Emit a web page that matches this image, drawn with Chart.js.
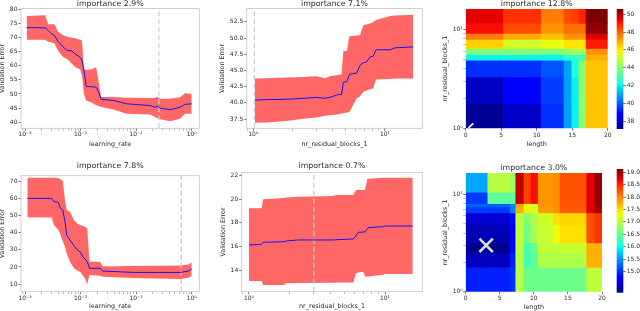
<!DOCTYPE html>
<html>
<head>
<meta charset="utf-8">
<script src="https://cdn.jsdelivr.net/npm/chart.js@4.4.1/dist/chart.umd.min.js"></script>
<style>
  html, body { margin: 0; padding: 0; background: #fff; overflow: hidden; width: 640px; height: 311px; }
  canvas { position: absolute; }
</style>
</head>
<body>
<canvas id="p1"></canvas>
<canvas id="p2"></canvas>
<canvas id="p3"></canvas>
<canvas id="cb3"></canvas>
<canvas id="p4"></canvas>
<canvas id="p5"></canvas>
<canvas id="p6"></canvas>
<canvas id="cb6"></canvas>
<script>
// ---- tick labels ----
const lrTicks = [0.001, 0.01, 0.1, 1];
const lrTickLabels = ['10⁻³', '10⁻²', '10⁻¹', '10⁰'];
const blockTicks = [1, 10];
const blockTickLabels = ['10⁰', '10¹'];
const lengthTicks = [0, 5, 10, 15, 20];
const lengthTickLabels = ['0', '5', '10', '15', '20'];

// ---- panel 1: learning_rate, importance 2.9% ----
const p1Lr = [0.00107, 0.00229, 0.00263, 0.00295, 0.00339, 0.00398, 0.0049, 0.00562, 0.00692, 0.00794,
  0.00977, 0.0106, 0.0115, 0.0126, 0.0158, 0.0191, 0.0214, 0.0234, 0.0389, 0.0676,
  0.178, 0.219, 0.240, 0.269, 0.407, 0.617, 0.759, 1.0];
const p1Mean = [73.6, 73.5, 72.5, 71.5, 70.8, 68.5, 66.7, 65.5, 65.3, 64.3,
  63.1, 62.0, 58.5, 52.7, 52.6, 52.4, 50.5, 48.1, 47.7, 46.5,
  45.9, 45.3, 45.6, 45.0, 44.4, 45.3, 46.3, 46.5];
const p1Upper = [77.7, 78.0, 74.8, 74.8, 74.8, 72.0, 70.9, 70.3, 70.0, 69.8,
  69.3, 69.0, 59.0, 58.5, 58.8, 59.5, 53.6, 48.9, 48.9, 48.7,
  48.6, 48.6, 49.0, 48.3, 48.3, 48.8, 50.3, 50.0];
const p1Lower = [69.3, 69.3, 68.6, 68.4, 67.9, 65.2, 63.1, 62.5, 60.8, 59.6,
  58.8, 56.6, 50.0, 47.7, 47.0, 46.0, 45.7, 45.4, 44.5, 43.0,
  42.7, 41.8, 41.4, 41.0, 40.3, 41.2, 43.0, 43.0];
const p1Incumbent = 0.257;
const p1YTicks = [40, 45, 50, 55, 60, 65, 70, 75, 80];
const p1YLabels = ['40', '45', '50', '55', '60', '65', '70', '75', '80'];

// ---- panel 2: nr_residual_blocks_1, importance 7.1% ----
const p2Blocks = [1.03, 1.26, 1.78, 2.4, 3.02, 3.5, 3.82, 4.43, 4.68, 4.83, 5.13,
  5.37, 6.1, 6.46, 6.84, 7.24, 7.69, 8.13, 8.55, 10.96, 11.9, 16.4];
const p2Mean = [40.43, 40.5, 40.55, 40.7, 40.85, 40.7, 40.85, 41.3, 41.3, 43.2, 43.25,
  44.4, 44.6, 45.8, 46.2, 46.3, 47.1, 47.2, 48.2, 48.2, 48.5, 48.65];
const p2Upper = [43.77, 43.8, 43.9, 44.0, 44.1, 43.8, 44.1, 44.3, 44.4, 48.0, 48.0,
  50.3, 50.4, 50.45, 52.0, 52.1, 52.25, 52.5, 52.8, 53.4, 53.5, 53.6];
const p2Lower = [36.94, 36.95, 37.2, 37.55, 37.75, 38.0, 38.1, 38.25, 38.35, 38.4, 38.5,
  38.6, 40.7, 41.0, 41.7, 41.9, 42.1, 42.2, 43.6, 43.7, 43.75, 43.77];
const p2Incumbent = 1.02;
const p2YTicks = [37.5, 40, 42.5, 45, 47.5, 50, 52.5];
const p2YLabels = ['37.5', '40.0', '42.5', '45.0', '47.5', '50.0', '52.5'];

// ---- panel 4: learning_rate, importance 7.8% ----
const p4Lr = [0.0011, 0.00302, 0.00331, 0.00398, 0.00427, 0.00479, 0.00525, 0.00562, 0.00646, 0.00759, 0.00871,
  0.00977, 0.011, 0.012, 0.0132, 0.0145, 0.0224, 0.0251, 0.0891, 0.617, 0.871, 1.0];
const p4Mean = [60.2, 60.2, 58.3, 57.9, 54.8, 53.4, 46.5, 38.7, 35.8, 32.5, 30.0,
  29.0, 26.0, 24.7, 23.1, 19.2, 19.2, 17.6, 16.8, 16.8, 17.6, 18.8];
const p4Upper = [72.3, 72.3, 72.3, 72.0, 71.5, 70.4, 59.0, 53.4, 52.4, 47.5, 45.5,
  44.6, 44.0, 43.6, 42.5, 23.1, 23.1, 20.2, 20.5, 20.8, 21.5, 22.7];
const p4Lower = [49.1, 49.0, 44.6, 41.7, 39.5, 35.0, 31.9, 28.0, 23.1, 19.2, 18.0,
  17.2, 15.0, 13.3, 9.8, 15.3, 14.9, 14.3, 13.5, 12.9, 13.7, 14.9];
const p4Incumbent = 0.65;
const p4YTicks = [10, 20, 30, 40, 50, 60, 70];
const p4YLabels = ['10', '20', '30', '40', '50', '60', '70'];

// ---- panel 5: nr_residual_blocks_1, importance 0.7% ----
const p5Blocks = [1.0, 1.24, 1.27, 1.81, 1.87, 2.31, 4.17, 4.36, 5.85, 6.12, 6.37, 6.92, 7.13, 7.41, 7.54, 9.72, 10.0, 16.0];
const p5Mean = [16.12, 16.18, 16.35, 16.4, 16.46, 16.55, 16.55, 16.57, 16.63, 16.9, 17.2, 17.22, 17.25, 17.5, 17.6, 17.68, 17.73, 17.73];
const p5Upper = [19.23, 19.23, 20.0, 20.1, 20.15, 20.22, 20.28, 20.36, 20.36, 20.78, 20.78, 20.78, 20.78, 21.72, 21.75, 21.83, 21.83, 21.83];
const p5Lower = [13.07, 13.07, 12.73, 12.73, 12.88, 12.9, 12.92, 12.93, 12.93, 13.72, 13.78, 13.86, 13.44, 13.44, 13.45, 13.6, 13.67, 13.67];
const p5Incumbent = 3.0;
const p5YTicks = [14, 16, 18, 20, 22];
const p5YLabels = ['14', '16', '18', '20', '22'];

// ---- panel 3: heatmap length x nr_residual_blocks_1, importance 12.8% ----
const hm3LengthEdges = [0, 5.3, 10.6, 13.8, 14.9, 15.9, 16.9, 20];
const hm3BlockEdges = [1, 1.8, 3.32, 4.9, 5.59, 6.43, 7.93, 9.12, 11.5, 16];
const hm3Values = [          // rows bottom -> top
  [37.35, 37.95, 39.4, 40.9, 42.0, 44.1, 46.6],
  [37.9, 38.6, 39.6, 40.9, 42.0, 44.1, 46.6],
  [39.4, 39.4, 39.9, 40.9, 42.3, 44.1, 46.6],
  [42.0, 42.0, 42.0, 42.4, 42.6, 42.8, 46.9],
  [43.9, 43.9, 43.9, 44.2, 44.4, 44.4, 47.3],
  [46.4, 45.2, 45.6, 46.1, 46.1, 46.1, 49.0],
  [47.6, 46.9, 46.6, 47.3, 47.3, 47.3, 49.5],
  [49.2, 48.3, 47.3, 47.8, 47.8, 47.8, 50.4],
  [49.4, 48.7, 47.6, 48.3, 48.5, 48.9, 50.6]
];
const hm3Path = { length: [0.38, 1.08], blocks: [1.01, 1.12] };
const cb3Ticks = [38, 40, 42, 44, 46, 48, 50];
const cb3Labels = ['38', '40', '42', '44', '46', '48', '50'];

// ---- panel 6: heatmap length x nr_residual_blocks_1, importance 3.0% ----
const hm6LengthEdges = [0, 3.2, 6.5, 7.3, 8.5, 9.5, 10.6, 12.8, 13.8, 17.7, 18.9, 20];
const hm6BlockEdges = [1, 1.79, 2.53, 3.2, 4.9, 6.5, 7.5, 8.1, 10.6, 16.6];
const hm6Values = [          // rows bottom -> top
  [14.93, 14.93, 15.0, 17.0, 16.55, 16.55, 16.55, 16.55, 16.55, 17.05, 17.05],
  [14.42, 14.42, 14.93, 17.0, 16.3, 16.45, 16.95, 16.95, 16.95, 17.75, 17.75],
  [14.21, 14.21, 14.8, 17.05, 16.3, 16.55, 17.05, 17.05, 17.1, 17.75, 17.75],
  [14.38, 14.38, 14.75, 17.05, 16.55, 16.9, 17.1, 17.35, 17.5, 18.25, 18.4],
  [14.5, 14.5, 14.8, 17.05, 16.65, 16.95, 17.15, 17.5, 17.55, 18.25, 18.4],
  [15.05, 15.05, 15.4, 17.75, 17.4, 17.2, 17.85, 17.9, 18.2, 18.7, 18.95],
  [15.25, 15.25, 15.45, 17.85, 17.3, 17.15, 17.9, 17.95, 18.25, 18.7, 19.0],
  [15.05, 16.45, 16.45, 18.85, 18.34, 18.6, 17.9, 17.95, 18.25, 18.7, 19.05],
  [15.6, 17.0, 16.85, 18.85, 18.34, 18.6, 17.9, 17.95, 18.25, 18.7, 19.05]
];
const hm6Incumbent = { length: 3, blocks: 3 };
const cb6Ticks = [15, 15.5, 16, 16.5, 17, 17.5, 18, 18.5, 19];
const cb6Labels = ['15.0', '15.5', '16.0', '16.5', '17.0', '17.5', '18.0', '18.5', '19.0'];

// ---- styling ----
const FAMILY = 'DejaVu Sans';
const TICK_FONT = { family: FAMILY, size: 6 };
const AXIS_FONT = { family: FAMILY, size: 6.4, lineHeight: 1 };
const TITLE_FONT = { family: FAMILY, size: 7.8, lineHeight: 1.1, weight: 'normal' };
const TITLE_H = 7.8 * 1.1;
const AXIS_HALF = 3.2;
const TEXT = '#2a2a2a';

function jet(t) {
  t = Math.min(1, Math.max(0, t));
  const lerp = (pts) => {
    for (let i = 1; i < pts.length; i++) {
      if (t <= pts[i][0]) {
        const [x0, y0] = pts[i - 1], [x1, y1] = pts[i];
        return y0 + (y1 - y0) * (t - x0) / (x1 - x0);
      }
    }
    return pts[pts.length - 1][1];
  };
  const r = lerp([[0, 0], [0.35, 0], [0.66, 1], [0.89, 1], [1, 0.5]]);
  const g = lerp([[0, 0], [0.125, 0], [0.375, 1], [0.64, 1], [0.91, 0], [1, 0]]);
  const b = lerp([[0, 0.5], [0.11, 1], [0.34, 1], [0.65, 0], [1, 0]]);
  return `rgb(${Math.round(r * 255)},${Math.round(g * 255)},${Math.round(b * 255)})`;
}

function place(id, left, top, w, h) {
  const cv = document.getElementById(id);
  cv.width = w; cv.height = h;
  cv.style.left = left + 'px'; cv.style.top = top + 'px';
  cv.style.width = w + 'px'; cv.style.height = h + 'px';
  return cv;
}

function labelFor(v, values, labels) {
  const i = values.findIndex(m => Math.abs(m - v) <= Math.abs(m) * 1e-6 + 1e-9);
  return i < 0 ? '' : labels[i];
}

function logTickList(min, max) {
  const out = [];
  for (let e = Math.floor(Math.log10(min)); e <= Math.ceil(Math.log10(max)); e++) {
    for (let k = 1; k < 10; k++) {
      const v = parseFloat((k * Math.pow(10, e)).toPrecision(6));
      if (v >= min && v <= max) out.push({ value: v });
    }
  }
  return out;
}

const pts = (xs, ys) => xs.map((x, i) => ({ x, y: ys[i] }));

const framePlugin = {
  id: 'frame',
  afterDatasetsDraw(chart, args, opts) {
    if (!opts || !opts.color) return;
    const { ctx, chartArea: a } = chart;
    ctx.save();
    ctx.strokeStyle = opts.color;
    ctx.lineWidth = 0.8;
    ctx.strokeRect(a.left, a.top, a.right - a.left, a.bottom - a.top);
    ctx.restore();
  }
};

function heatmapLayer(xEdges, yEdges, values, vmin, vmax) {
  return {
    id: 'heatmap',
    beforeDatasetsDraw(chart) {
      const { ctx, chartArea: a, scales: { x, y } } = chart;
      ctx.save();
      ctx.beginPath();
      ctx.rect(a.left, a.top, a.right - a.left, a.bottom - a.top);
      ctx.clip();
      values.forEach((row, i) => {
        const y0 = y.getPixelForValue(yEdges[i]);
        const y1 = y.getPixelForValue(yEdges[i + 1]);
        row.forEach((v, j) => {
          const x0 = x.getPixelForValue(xEdges[j]);
          const x1 = x.getPixelForValue(xEdges[j + 1]);
          ctx.fillStyle = jet((v - vmin) / (vmax - vmin));
          ctx.fillRect(x0, y1, x1 - x0 + 0.6, y0 - y1 + 0.6);
        });
      });
      ctx.restore();
    }
  };
}

const colorbarLayer = {
  id: 'colorbar',
  beforeDatasetsDraw(chart) {
    const { ctx, chartArea: a } = chart;
    const grad = ctx.createLinearGradient(0, a.bottom, 0, a.top);
    for (let i = 0; i <= 40; i++) grad.addColorStop(i / 40, jet(i / 40));
    ctx.save();
    ctx.fillStyle = grad;
    ctx.fillRect(a.left, a.top, a.right - a.left, a.bottom - a.top);
    ctx.restore();
  }
};

function tickGrid(majors) {
  return {
    drawOnChartArea: false, drawTicks: true, tickLength: 2.5, tickWidth: 0.8,
    tickColor: c => (!majors || (c.tick && labelFor(c.tick.value, majors, majors) !== '')) ? '#555' : '#aaa'
  };
}

function logAxis(min, max, majors, labels, title, fit) {
  return {
    type: 'logarithmic', min, max,
    afterBuildTicks: s => { s.ticks = logTickList(min, max); },
    afterFit: fit,
    ticks: { font: TICK_FONT, color: TEXT, padding: 0.5, autoSkip: false, maxRotation: 0, minRotation: 0,
      callback: v => labelFor(v, majors, labels) },
    grid: tickGrid(majors),
    border: { display: false },
    title: title
  };
}

function linAxis(min, max, values, labels, title, fit, position) {
  return {
    type: 'linear', min, max, position: position || undefined,
    afterBuildTicks: s => { s.ticks = values.map(v => ({ value: v })); },
    afterFit: fit,
    ticks: { font: TICK_FONT, color: TEXT, padding: 1, autoSkip: false, maxRotation: 0, minRotation: 0,
      callback: v => labelFor(v, values, labels) },
    grid: tickGrid(null),
    border: { display: false },
    title: title
  };
}

// box: canvas left/top/width/height, plot left/top/right/bottom, title centres of the axis labels
function linePanel(id, box, d) {
  const cv = place(id, box.cl, box.ct, box.cw, box.ch);
  const yTitleX = box.yTitle - AXIS_HALF - box.cl;
  const xTitleY = box.ct + box.ch - AXIS_HALF - box.xTitle;
  new Chart(cv, {
    type: 'scatter',
    data: {
      datasets: [
        { data: pts(d.x, d.mean), showLine: true, borderColor: '#1414f5', borderWidth: 1, pointRadius: 0 },
        { data: [{ x: d.incumbent, y: d.yMin }, { x: d.incumbent, y: d.yMax }], showLine: true,
          borderColor: '#cdcdcd', borderWidth: 1.3, borderDash: [5, 3], pointRadius: 0 },
        { data: pts(d.x, d.upper), showLine: true, borderColor: 'rgba(0,0,0,0)', pointRadius: 0,
          fill: '+1', backgroundColor: 'rgba(255,0,0,0.6)' },
        { data: pts(d.x, d.lower), showLine: true, borderColor: 'rgba(0,0,0,0)', pointRadius: 0 }
      ]
    },
    plugins: [framePlugin],
    options: {
      responsive: false, animation: false, events: [],
      layout: { padding: { left: 0, top: 0, bottom: 0, right: box.cl + box.cw - box.pr } },
      plugins: {
        legend: { display: false }, tooltip: { enabled: false },
        title: { display: true, text: d.title, fullSize: false, color: TEXT, font: TITLE_FONT,
          padding: { top: box.titleTop, bottom: box.pt - box.ct - box.titleTop - TITLE_H } },
        frame: { color: '#c4c4c4' }
      },
      scales: {
        x: logAxis(d.xMin, d.xMax, d.xMajors, d.xLabels,
          { display: true, text: d.xTitle, color: TEXT, font: AXIS_FONT, padding: { top: 0, bottom: xTitleY } },
          s => { s.height = box.ct + box.ch - box.pb; }),
        y: linAxis(d.yMin, d.yMax, d.yTicks, d.yLabels,
          { display: true, text: 'Validation Error', color: TEXT, font: AXIS_FONT, padding: { top: yTitleX, bottom: 0 } },
          s => { s.width = box.pl - box.cl; })
      }
    }
  });
}

function heatPanel(id, box, d) {
  const cv = place(id, box.cl, box.ct, box.cw, box.ch);
  const yTitleX = box.yTitle - AXIS_HALF - box.cl;
  const xTitleY = box.ct + box.ch - AXIS_HALF - box.xTitle;
  new Chart(cv, {
    type: 'scatter',
    data: { datasets: d.datasets },
    plugins: [heatmapLayer(d.xEdges, d.yEdges, d.values, d.vmin, d.vmax)],
    options: {
      responsive: false, animation: false, events: [],
      layout: { padding: { left: 0, top: 0, bottom: 0, right: box.cl + box.cw - box.pr } },
      plugins: {
        legend: { display: false }, tooltip: { enabled: false },
        title: { display: true, text: d.title, fullSize: false, color: TEXT, font: TITLE_FONT,
          padding: { top: box.titleTop, bottom: box.pt - box.ct - box.titleTop - TITLE_H } }
      },
      scales: {
        x: linAxis(0, 20, lengthTicks, lengthTickLabels,
          { display: true, text: 'length', color: TEXT, font: AXIS_FONT, padding: { top: 0, bottom: xTitleY } },
          s => { s.height = box.ct + box.ch - box.pb; }),
        y: logAxis(d.yMin, d.yMax, blockTicks, blockTickLabels,
          { display: true, text: 'nr_residual_blocks_1', color: TEXT, font: AXIS_FONT, padding: { top: yTitleX, bottom: 0 } },
          s => { s.width = box.pl - box.cl; })
      }
    }
  });
}

function colorbar(id, box, vmin, vmax, ticks, labels) {
  const cv = place(id, box.cl, box.ct, box.cw, box.ch);
  new Chart(cv, {
    type: 'scatter',
    data: { datasets: [] },
    plugins: [colorbarLayer],
    options: {
      responsive: false, animation: false, events: [],
      layout: { padding: { left: box.pl - box.cl, top: box.pt - box.ct, bottom: box.ct + box.ch - box.pb, right: 0 } },
      plugins: { legend: { display: false }, tooltip: { enabled: false } },
      scales: {
        x: { type: 'linear', display: false, min: 0, max: 1 },
        y: linAxis(vmin, vmax, ticks, labels, { display: false }, s => { s.width = box.cl + box.cw - box.pr; }, 'right')
      }
    }
  });
}

// ---- build ----
linePanel('p1', { cl: -1, ct: 0, cw: 216, ch: 150, pl: 21, pt: 8.6, pr: 199.3, pb: 128.3, titleTop: 0, yTitle: 2.4, xTitle: 144.2 }, {
  title: 'importance 2.9%', x: p1Lr, mean: p1Mean, upper: p1Upper, lower: p1Lower, incumbent: p1Incumbent,
  xMin: 0.000847, xMax: 1.37, xMajors: lrTicks, xLabels: lrTickLabels, xTitle: 'learning_rate',
  yMin: 37.8, yMax: 80.35, yTicks: p1YTicks, yLabels: p1YLabels
});

linePanel('p2', { cl: 219, ct: 0, cw: 221, ch: 150, pl: 246.7, pt: 8.6, pr: 422.3, pb: 128.3, titleTop: 0, yTitle: 222.8, xTitle: 144.2 }, {
  title: 'importance 7.1%', x: p2Blocks, mean: p2Mean, upper: p2Upper, lower: p2Lower, incumbent: p2Incumbent,
  xMin: 0.891, xMax: 19.2, xMajors: blockTicks, xLabels: blockTickLabels, xTitle: 'nr_residual_blocks_1',
  yMin: 36.07, yMax: 54.56, yTicks: p2YTicks, yLabels: p2YLabels
});

heatPanel('p3', { cl: 442, ct: 0, cw: 172, ch: 150, pl: 465.7, pt: 9, pr: 607.7, pb: 128.3, titleTop: 0, yTitle: 445.6, xTitle: 144.2 }, {
  title: 'importance 12.8%', xEdges: hm3LengthEdges, yEdges: hm3BlockEdges, values: hm3Values, vmin: 37.1, vmax: 50.6,
  yMin: 1, yMax: 16,
  datasets: [{ data: pts(hm3Path.length, hm3Path.blocks), showLine: true, borderColor: '#f4f4f4', borderWidth: 1.8, pointRadius: 0 }]
});
colorbar('cb3', { cl: 612, ct: 0, cw: 40, ch: 150, pl: 616.7, pt: 9, pr: 623.3, pb: 129 }, 37.1, 50.6, cb3Ticks, cb3Labels);

linePanel('p4', { cl: -2, ct: 161, cw: 217, ch: 150, pl: 21, pt: 175.7, pr: 199.3, pb: 291.7, titleTop: 0.2, yTitle: 2, xTitle: 306.5 }, {
  title: 'importance 7.8%', x: p4Lr, mean: p4Mean, upper: p4Upper, lower: p4Lower, incumbent: p4Incumbent,
  xMin: 0.000847, xMax: 1.37, xMajors: lrTicks, xLabels: lrTickLabels, xTitle: 'learning_rate',
  yMin: 5.5, yMax: 73.5, yTicks: p4YTicks, yLabels: p4YLabels
});

linePanel('p5', { cl: 220, ct: 161, cw: 220, ch: 150, pl: 241.7, pt: 172.3, pr: 422.3, pb: 291.7, titleTop: 0.2, yTitle: 223.8, xTitle: 306.3 }, {
  title: 'importance 0.7%', x: p5Blocks, mean: p5Mean, upper: p5Upper, lower: p5Lower, incumbent: p5Incumbent,
  xMin: 0.884, xMax: 18.8, xMajors: blockTicks, xLabels: blockTickLabels, xTitle: 'nr_residual_blocks_1',
  yMin: 12.16, yMax: 22.29, yTicks: p5YTicks, yLabels: p5YLabels
});

heatPanel('p6', { cl: 442, ct: 161, cw: 172, ch: 150, pl: 465.7, pt: 171, pr: 607.7, pb: 291.7, titleTop: 0.2, yTitle: 445.8, xTitle: 307 }, {
  title: 'importance 3.0%', xEdges: hm6LengthEdges, yEdges: hm6BlockEdges, values: hm6Values, vmin: 14.15, vmax: 19.13,
  yMin: 1, yMax: 16.6,
  datasets: [{ data: [{ x: hm6Incumbent.length, y: hm6Incumbent.blocks }], pointStyle: 'crossRot', pointRadius: 9.5,
    borderColor: '#dcdcdc', borderWidth: 2.5, backgroundColor: '#dcdcdc' }]
});
colorbar('cb6', { cl: 612, ct: 161, cw: 40, ch: 150, pl: 616.7, pt: 169, pr: 623.3, pb: 292.7 }, 14.15, 19.13, cb6Ticks, cb6Labels);
</script>
</body>
</html>
